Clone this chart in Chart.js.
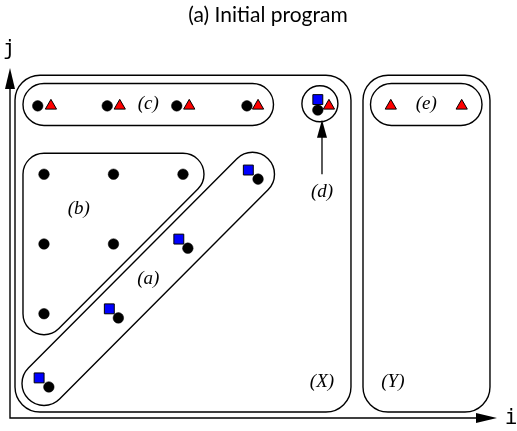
<!DOCTYPE html>
<html>
<head>
<meta charset="UTF-8">
<title>(a) Initial program</title>
<script src="https://cdn.jsdelivr.net/npm/chart.js"></script>
<style>
    body { margin: 0; background: #ffffff; }
    canvas { display: block; }
</style>
</head>
<body>
<canvas id="myChart" width="517" height="431"></canvas>
<script>
    // iteration points (i, j)
    const circles = [
        [-0.09, 3.98], [0.91, 3.98], [1.91, 3.98], [2.92, 3.98], [3.94, 3.92],
        [0, 3], [1, 3], [2, 3], [0, 2], [1, 2], [0, 1],
        [0.07, -0.05], [1.07, 0.94], [2.07, 1.94], [3.08, 2.93]
    ];
    const squares = [
        [-0.07, 0.08], [0.94, 1.07], [1.94, 2.07], [2.94, 3.06], [3.94, 4.07]
    ];
    const triangles = [
        [0.1, 3.98], [1.09, 3.98], [2.09, 3.98], [3.08, 3.98], [4.1, 3.98], [4.99, 3.98], [6.01, 3.98]
    ];
    const titleText = '(a) Initial program';
    const axisLabels = ['i', 'j'];

    // groups drawn around the points (grid units, radius in px)
    const hulls = [
        { pts: [[0, 3], [2, 3], [0, 1]], r: 21 },      // (b)
        { pts: [[0, 0], [3, 3]], r: 22 },              // (a)
        { pts: [[0, 4], [3, 4]], r: 21 },              // (c)
        { pts: [[5, 4], [6, 4]], r: 21 },              // (e)
        { pts: [[3.97, 4.01]], r: 18 }                 // (d)
    ];
    const boxes = [
        { i0: -0.417, i1: 4.417, j0: -0.41, j1: 4.42, r: 25 },   // (X)
        { i0: 4.59, i1: 6.417, j0: -0.41, j1: 4.42, r: 25 }      // (Y)
    ];
    const tags = [
        ['(a)', 1.5, 1.5], ['(b)', 0.5, 2.5], ['(c)', 1.5, 4], ['(d)', 4, 2.75],
        ['(e)', 5.5, 4], ['(X)', 4, 0.02], ['(Y)', 5.02, 0.02]
    ];

    const toXY = arr => arr.map(p => ({ x: p[0], y: p[1] }));

    function arrowHead(ctx, x, y, dir, len, half) {
        ctx.beginPath();
        if (dir === 'up') {
            ctx.moveTo(x, y); ctx.lineTo(x - half, y + len); ctx.lineTo(x + half, y + len);
        } else {
            ctx.moveTo(x, y); ctx.lineTo(x - len, y - half); ctx.lineTo(x - len, y + half);
        }
        ctx.closePath();
        ctx.fill();
    }

    function hullPath(ctx, pts, r) {
        ctx.beginPath();
        if (pts.length === 1) {
            ctx.arc(pts[0].x, pts[0].y, r, 0, Math.PI * 2);
            return;
        }
        const n = pts.length;
        const normAng = (a, b) => {
            const dx = b.x - a.x, dy = b.y - a.y;
            return Math.atan2(-dx, dy);
        };
        for (let k = 0; k < n; k++) {
            const prev = pts[(k - 1 + n) % n], cur = pts[k], next = pts[(k + 1) % n];
            ctx.arc(cur.x, cur.y, r, normAng(prev, cur), normAng(cur, next), false);
        }
        ctx.closePath();
    }

    const diagram = {
        id: 'diagram',
        beforeDatasetsDraw(chart) {
            const ctx = chart.ctx;
            const xs = chart.scales.x, ys = chart.scales.y;
            const ca = chart.chartArea;
            ctx.save();
            ctx.strokeStyle = '#000';
            ctx.fillStyle = '#000';
            ctx.lineWidth = 1.4;

            boxes.forEach(b => {
                const x0 = xs.getPixelForValue(b.i0), x1 = xs.getPixelForValue(b.i1);
                const y0 = ys.getPixelForValue(b.j1), y1 = ys.getPixelForValue(b.j0);
                ctx.beginPath();
                ctx.roundRect(x0, y0, x1 - x0, y1 - y0, b.r);
                ctx.stroke();
            });

            hulls.forEach(h => {
                const pts = h.pts.map(p => ({ x: xs.getPixelForValue(p[0]), y: ys.getPixelForValue(p[1]) }));
                hullPath(ctx, pts, h.r);
                ctx.stroke();
            });

            // axes with arrows
            ctx.lineWidth = 1.4;
            ctx.beginPath();
            ctx.moveTo(ca.left, ca.top + 10);
            ctx.lineTo(ca.left, ca.bottom);
            ctx.lineTo(ca.right - 10, ca.bottom);
            ctx.stroke();
            arrowHead(ctx, ca.left, ca.top, 'up', 21, 5);
            arrowHead(ctx, ca.right, ca.bottom, 'right', 21, 5);

            // (d) pointer
            const dx = xs.getPixelForValue(4);
            ctx.lineWidth = 1.3;
            ctx.beginPath();
            ctx.moveTo(dx, ys.getPixelForValue(3.0));
            ctx.lineTo(dx, ys.getPixelForValue(3.55));
            ctx.stroke();
            arrowHead(ctx, dx, ys.getPixelForValue(3.78), 'up', 18, 5);

            // texts
            ctx.textAlign = 'center';
            ctx.textBaseline = 'middle';
            ctx.font = 'italic 19px "Liberation Serif"';
            tags.forEach(t => {
                ctx.fillText(t[0], xs.getPixelForValue(t[1]), ys.getPixelForValue(t[2]));
            });

            ctx.font = '21px "DejaVu Sans Mono"';
            ctx.fillText(axisLabels[0], ca.right + 14, ca.bottom + 1);
            ctx.fillText(axisLabels[1], ca.left - 1, ca.top - 18);

            ctx.font = '21px Lato';
            ctx.fillText(titleText, 268, 15);
            ctx.restore();
        }
    };

    const ctx = document.getElementById('myChart').getContext('2d');
    const myChart = new Chart(ctx, {
        type: 'scatter',
        data: {
            datasets: [
                {
                    label: 'circles',
                    data: toXY(circles),
                    pointStyle: 'circle',
                    pointRadius: 5.3,
                    backgroundColor: '#000000',
                    borderColor: '#000000',
                    borderWidth: 0.5,
                    clip: false
                },
                {
                    label: 'squares',
                    data: toXY(squares),
                    pointStyle: 'rect',
                    pointRadius: 7,
                    backgroundColor: '#0000ff',
                    borderColor: '#000000',
                    borderWidth: 1,
                    clip: false
                },
                {
                    label: 'triangles',
                    data: toXY(triangles),
                    pointStyle: 'triangle',
                    pointRadius: 6.5,
                    backgroundColor: '#ff0000',
                    borderColor: '#000000',
                    borderWidth: 1,
                    clip: false
                }
            ]
        },
        options: {
            responsive: false,
            animation: false,
            layout: { padding: { left: 10, top: 68, right: 20, bottom: 13 } },
            plugins: {
                legend: { display: false },
                tooltip: { enabled: false }
            },
            scales: {
                x: { type: 'linear', min: -0.489, max: 6.518, display: false },
                y: { type: 'linear', min: -0.495, max: 4.523, display: false }
            }
        },
        plugins: [diagram]
    });
</script>
</body>
</html>
